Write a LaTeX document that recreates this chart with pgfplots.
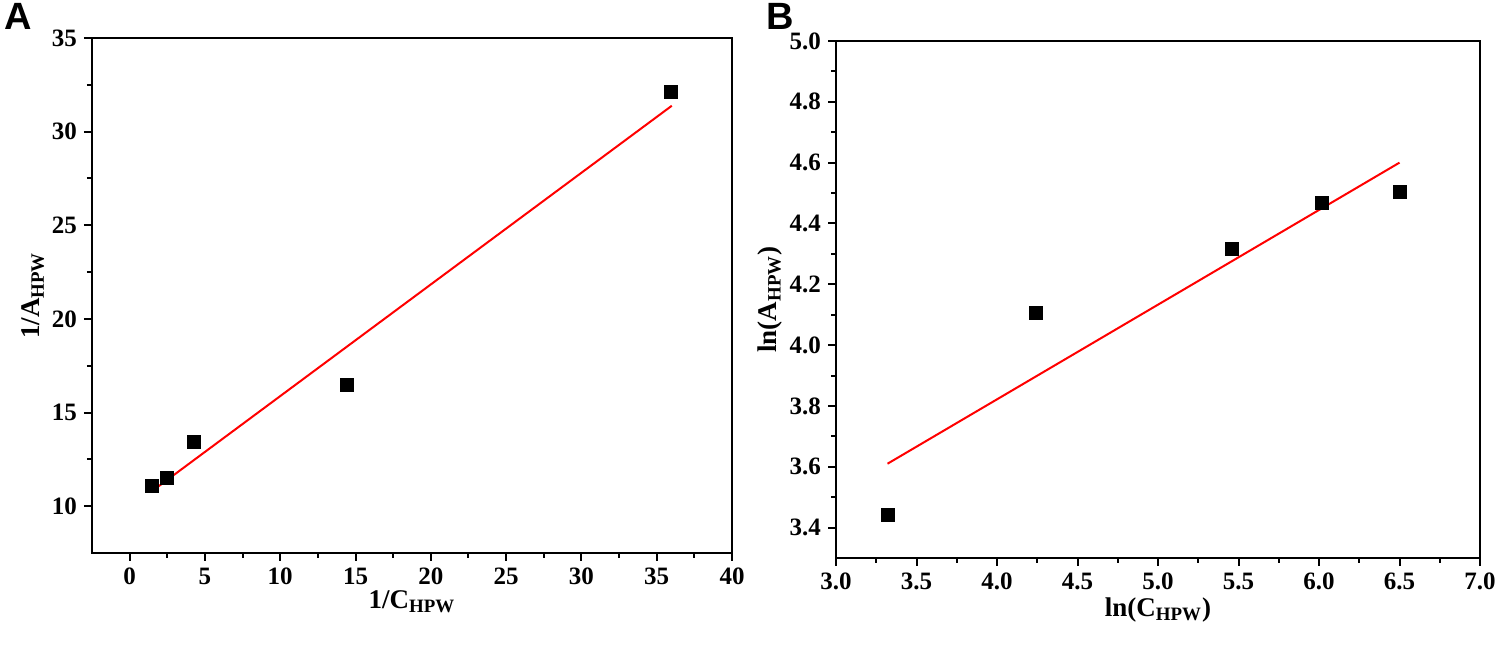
\documentclass[border=0pt]{standalone}
\usepackage{fontspec}
\setmainfont{Liberation Serif}
\newfontfamily\arialfont{Liberation Sans}
\usepackage{pgfplots}
\pgfplotsset{compat=1.18}
\begin{document}
\begin{tikzpicture}
\pgfplotsset{
  common/.style={
    scale only axis,
    axis line style={line width=1.1pt,black},
    tick style={line width=1pt,black},
    major tick length=4pt,
    minor tick length=2.5pt,
    tick align=outside,
    xtick pos=bottom, ytick pos=left,
    minor tick num=1,
    /pgf/number format/assume math mode=true,
    tick label style={font=\bfseries\fontsize{12.5}{13}\selectfont},
    label style={font=\bfseries\fontsize{13.5}{14}\selectfont},
    every axis plot/.append style={line width=1pt},
    clip=false,
  }
}
\begin{axis}[common,
  at={(46pt,46.5pt)}, anchor=south west,
  width=320pt, height=257.5pt,
  xmin=-2.5, xmax=40, ymin=7.5, ymax=35,
  xtick={0,5,...,40}, ytick={10,15,...,35},
  xlabel={1/C\textsubscript{HPW}},
  ylabel={1/A\textsubscript{HPW}},
  xlabel style={yshift=4pt},
  ylabel style={yshift=-3pt},
]
\addplot[only marks, mark=square*, mark size=3pt, black] coordinates {
  (1.5,11.1) (2.45,11.5) (4.25,13.42) (14.45,16.46) (35.95,32.1)
};
\addplot[red, no marks] coordinates {(1.5,10.81) (36.0,31.38)};
\end{axis}
\begin{axis}[common,
  at={(418pt,44pt)}, anchor=south west,
  width=322pt, height=258.5pt,
  xmin=3, xmax=7, ymin=3.3, ymax=5.0,
  xtick={3.0,3.5,...,7.0}, ytick={3.4,3.6,...,5.0},
  xticklabel style={/pgf/number format/.cd, fixed, fixed zerofill, precision=1},
  yticklabel style={/pgf/number format/.cd, fixed, fixed zerofill, precision=1},
  xlabel={ln(C\textsubscript{HPW})},
  ylabel={ln(A\textsubscript{HPW})},
  xlabel style={yshift=3pt},
  ylabel style={yshift=-3pt},
]
\addplot[only marks, mark=square*, mark size=3pt, black] coordinates {
  (3.32,3.44) (4.24,4.106) (5.46,4.315) (6.02,4.466) (6.50,4.505)
};
\addplot[red, no marks] coordinates {(3.32,3.61) (6.5,4.60)};
\end{axis}
\node[anchor=north west, inner sep=0pt, font=\arialfont\bfseries\fontsize{19}{19}\selectfont] at (2pt,321.5pt) {A};
\node[anchor=north west, inner sep=0pt, font=\arialfont\bfseries\fontsize{19}{19}\selectfont] at (383pt,321.5pt) {B};
\pgfresetboundingbox
\path[use as bounding box] (0,0) rectangle (749.5pt,323pt);
\end{tikzpicture}
\end{document}
